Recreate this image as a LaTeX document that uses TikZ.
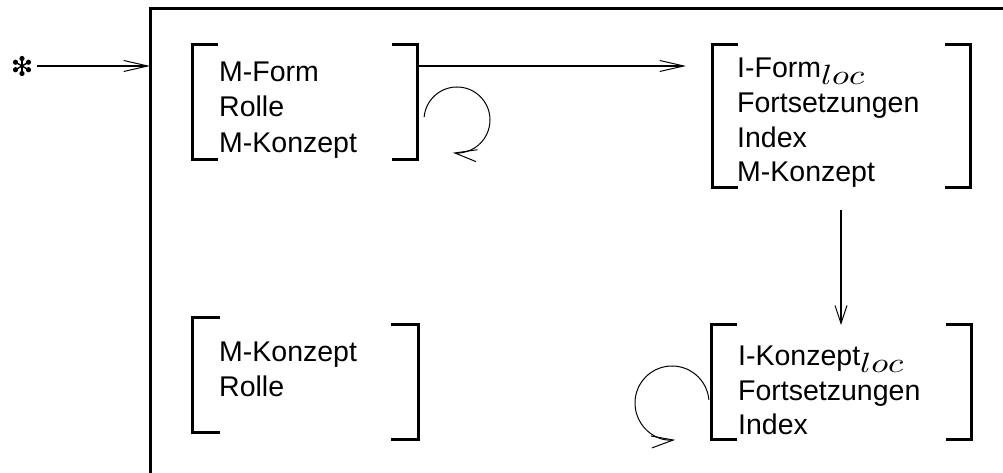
\documentclass[tikz,border=0pt]{standalone}
\usepackage{fontspec}
\setmainfont{Liberation Sans}
\usetikzlibrary{arrows.meta}
\newcommand{\locsub}{\raisebox{-7bp}{\scalebox{3.5}[2.8]{\normalsize$loc$}}}
\begin{document}
\begin{tikzpicture}[x=1bp,y=1bp,
  lbl/.style={anchor=base west,inner sep=0pt,font=\fontsize{28.5bp}{34bp}\selectfont},
  area/.style={inner sep=0pt,outer sep=0pt,draw=none},
  brk/.style={line width=3bp,line cap=rect},
  frm/.style={line width=3bp},
  barb/.style={-{Straight Barb[length=24bp,width=11bp,line width=1bp]}},
  harr/.style={barb,line width=2.8bp},
  varr/.style={-{Straight Barb[length=18bp,width=12bp,line width=1bp]},line width=1.5bp},
  loopy/.style={-{Straight Barb[length=22bp,width=12bp,line width=1bp]},line width=1bp}
]
\useasboundingbox (0,0) rectangle (1003,473);
% frame
\draw[frm] (150,-5) -- (150,464) -- (1010,464);
% asterisk
\node[area,minimum size=20bp] (star) at (22,407) {};
\foreach \a in {30,90,150,210,270,330}{
  \draw[line width=1.4bp] (star.center) -- ++(\a:7);
  \fill (star.center) ++(\a:7.5) circle (2.6bp);
}
\fill (star.center) circle (1.8bp);
\coordinate (framein) at (150,407);
\draw[harr] (37,407) -- (framein);
% box areas
\node[area,minimum width=225bp,minimum height=115bp] (box1) at (304.5,370.5) {};
\node[area,minimum width=258bp,minimum height=143bp] (box2) at (841,356.5) {};
\node[area,minimum width=260bp,minimum height=115bp] (box3) at (841,90.5) {};
\node[area,minimum width=226bp,minimum height=122bp] (box4) at (305,94) {};
% brackets
\foreach \b in {box1,box2,box3}{
  \draw[brk] ([xshift=24bp]\b.north west) -- (\b.north west) -- (\b.south west) -- ([xshift=24bp]\b.south west);
  \draw[brk] ([xshift=-24bp]\b.north east) -- (\b.north east) -- (\b.south east) -- ([xshift=-24bp]\b.south east);
}
\draw[brk] (218,155) -- (192,155) -- (192,40) -- (218,40);
\draw[brk] (392,148) -- (418,148) -- (418,33) -- (392,33);
% texts
\node[lbl] (t1a) at (219,391) {M-Form};
\node[lbl] (t1b) at (219,356) {Rolle};
\node[lbl] (t1c) at (219,320) {M-Konzept};
\node[lbl] (t2a) at (737,395) {I-Form\locsub};
\node[lbl] (t2b) at (737,360) {Fortsetzungen};
\node[lbl] (t2c) at (737,325) {Index};
\node[lbl] (t2d) at (737,291) {M-Konzept};
\node[lbl] (t3a) at (738,107) {I-Konzept\locsub};
\node[lbl] (t3b) at (738,72) {Fortsetzungen};
\node[lbl] (t3c) at (738,38) {Index};
\node[lbl] (t4a) at (219,111) {M-Konzept};
\node[lbl] (t4b) at (219,76) {Rolle};
% arrows
\draw[harr,shorten >=26bp] (box1.east |- framein) -- (box2.west |- framein);
\draw[varr,shorten <=22bp] (box2.south) -- (box3.north);
% loops
\coordinate (loopA) at (457,353);
\draw[loopy] (loopA) ++(175:33) arc[start angle=175,end angle=-97,radius=33];
\coordinate (loopB) at (672,70);
\draw[loopy] (loopB) ++(5:37) arc[start angle=5,end angle=275,radius=37];
\end{tikzpicture}
\end{document}
